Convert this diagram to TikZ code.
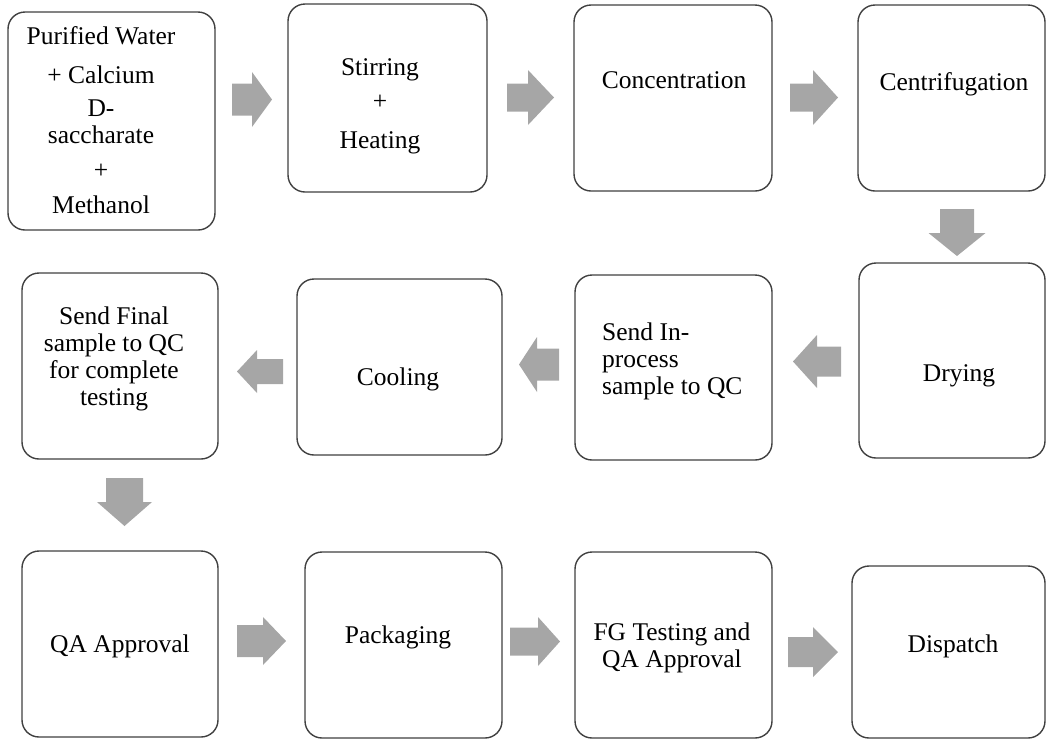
\documentclass[tikz,border=0pt]{standalone}
\usepackage{fontspec}
\setmainfont{Liberation Serif}
\definecolor{boxline}{HTML}{404040}
\definecolor{arrowfill}{HTML}{A6A6A6}
\newcommand{\blkarrow}[6]{% tail coordinate, rotation, length, head width, shaft width, head length
  \begin{scope}[shift={(#1)}, rotate=#2]
    \fill[arrowfill] (0,-#5/2) -- (#3-#6,-#5/2) -- (#3-#6,-#4/2) -- (#3,0) -- (#3-#6,#4/2) -- (#3-#6,#5/2) -- (0,#5/2) -- cycle;
  \end{scope}}
\tikzset{
  box/.style={draw=boxline, line width=1.4pt, rounded corners=17pt, fill=white, inner sep=0pt},
  txt/.style={font=\fontsize{25.5}{27}\selectfont, text=black, inner sep=0pt, anchor=base, align=center},
  txtl/.style={font=\fontsize{25.5}{27}\selectfont, text=black, inner sep=0pt, anchor=base west, align=left}
}
\begin{document}
\begin{tikzpicture}[x=1pt, y=-1pt]
\useasboundingbox (0,0) rectangle (1047,740);
% boxes
\node[box, minimum width=207pt, minimum height=218pt] (b1) at (111.5,121) {};
\node[box, minimum width=199pt, minimum height=188pt] (b2) at (387.5,98) {};
\node[box, minimum width=198pt, minimum height=186pt] (b3) at (673,98) {};
\node[box, minimum width=187pt, minimum height=186pt] (b4) at (951.5,98) {};
\node[box, minimum width=186pt, minimum height=195pt] (b5) at (952,360.5) {};
\node[box, minimum width=197pt, minimum height=185pt] (b6) at (673.5,367.5) {};
\node[box, minimum width=205pt, minimum height=176pt] (b7) at (399.5,367) {};
\node[box, minimum width=196pt, minimum height=186pt] (b8) at (120,366) {};
\node[box, minimum width=196pt, minimum height=186pt] (b9) at (120,644) {};
\node[box, minimum width=197pt, minimum height=186pt] (b10) at (403.5,645) {};
\node[box, minimum width=197pt, minimum height=186pt] (b11) at (673.5,645) {};
\node[box, minimum width=193pt, minimum height=172pt] (b12) at (948.5,652) {};
% texts (multi-line nodes are placed at the baseline of their last line)
\node[txt] (t1) at (101,213) {Purified Water\\[12pt] + Calcium\\[6pt] D-\\ saccharate\\[8pt] +\\[8pt] Methanol};
\node[txt] (t2) at (380,148) {Stirring\\[7pt] +\\[12pt] Heating};
\node[txt] (t3) at (674,88) {Concentration};
\node[txt] (t4) at (954,90) {Centrifugation};
\node[txt] (t5) at (959,381) {Drying};
\node[txtl] (t6) at (602,394) {Send In-\\ process\\ sample to QC};
\node[txt] (t7) at (398,385) {Cooling};
\node[txt] (t8) at (114,405) {Send Final\\ sample to QC\\ for complete\\ testing};
\node[txt] (t9) at (120,652) {QA Approval};
\node[txt] (t10) at (398,643) {Packaging};
\node[txt] (t11) at (672,667) {FG Testing and\\ QA Approval};
\node[txt] (t12) at (953,652) {Dispatch};
% arrow tails
\coordinate (a1) at (232,99.5);
\coordinate (a2) at (507,97.5);
\coordinate (a3) at (790,97.5);
\coordinate (a4) at (957,209);
\coordinate (a5) at (841,361.5);
\coordinate (a6) at (559,364.5);
\coordinate (a7) at (283,371.5);
\coordinate (a8) at (124.5,478);
\coordinate (a9) at (237,641);
\coordinate (a10) at (510,641.5);
\coordinate (a11) at (788,652);
\blkarrow{a1}{0}{40}{55}{32}{20}
\blkarrow{a2}{0}{47}{55}{28}{26}
\blkarrow{a3}{0}{48}{55}{28}{25}
\blkarrow{a4}{-90}{47}{57}{34}{23}
\blkarrow{a5}{180}{48}{53}{30}{24}
\blkarrow{a6}{180}{40}{55}{32}{18}
\blkarrow{a7}{180}{46}{43}{25}{20}
\blkarrow{a8}{-90}{48}{55}{37}{24}
\blkarrow{a9}{0}{49}{48}{32}{23}
\blkarrow{a10}{0}{50}{49}{28}{22}
\blkarrow{a11}{0}{50}{50}{30}{25}
\end{tikzpicture}
\end{document}
